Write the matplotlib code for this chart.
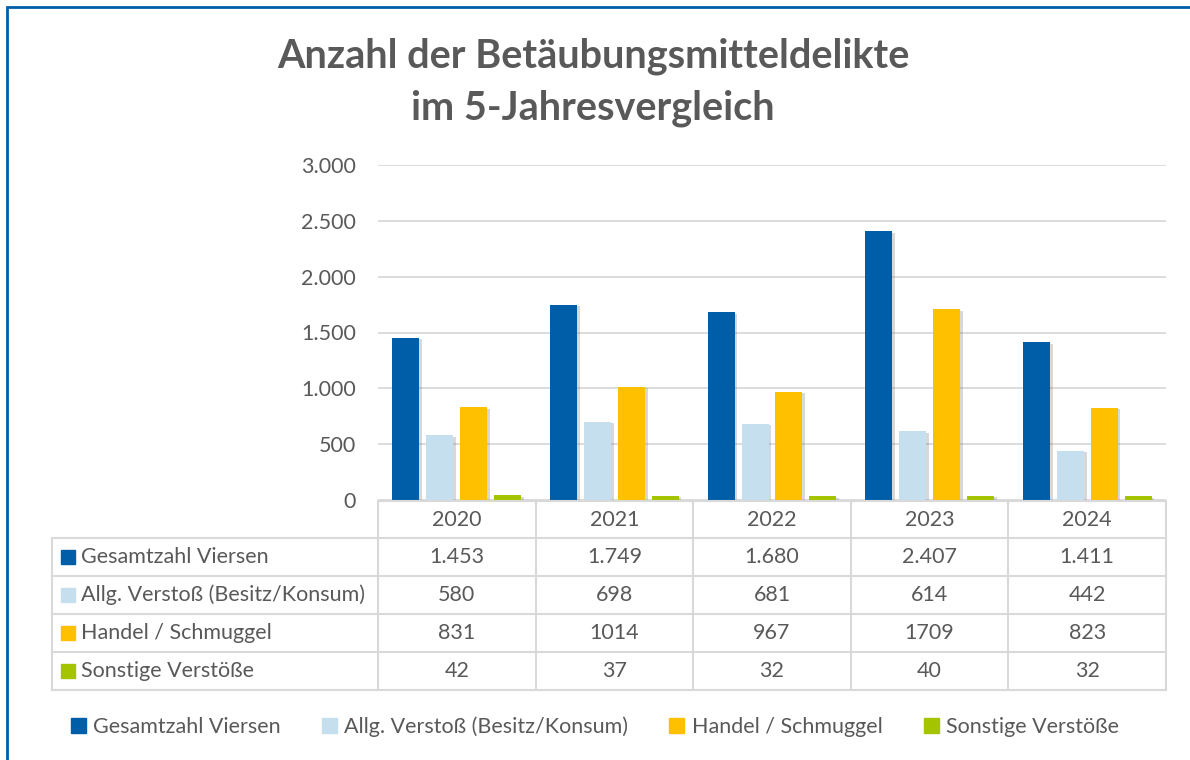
import matplotlib
matplotlib.use("Agg")
import matplotlib.pyplot as plt
import matplotlib.patheffects as pe
from matplotlib.lines import Line2D
from matplotlib.patches import Rectangle
from matplotlib.transforms import blended_transform_factory

# data
years = ["2020", "2021", "2022", "2023", "2024"]
series_names = ["Gesamtzahl Viersen", "Allg. Verstoß (Besitz/Konsum)",
                "Handel / Schmuggel", "Sonstige Verstöße"]
gesamt = [1453, 1749, 1680, 2407, 1411]
besitz = [580, 698, 681, 614, 442]
handel = [831, 1014, 967, 1709, 823]
sonstige = [42, 37, 32, 40, 32]
series = [gesamt, besitz, handel, sonstige]
colors = ["#005EA8", "#C6DFEE", "#FFC000", "#A5C400"]
y_ticks = [0, 500, 1000, 1500, 2000, 2500, 3000]

TEXT = "#595959"
GRID = "#D9D9D9"
FS = 15.5
plt.rcParams["font.family"] = ["Lato", "DejaVu Sans"]

W, H = 1190, 760
fig = plt.figure(figsize=(W / 100, H / 100), dpi=100)

def fx(px):
    return px / W

def fy(py):
    return 1 - py / H

# plot area
ax = fig.add_axes([fx(378), fy(500), fx(1166) - fx(378), fy(165) - fy(500)])
ax.set_xlim(-0.5, len(years) - 0.5)
ax.set_ylim(0, 3000)
for s in ax.spines.values():
    s.set_visible(False)
ax.set_xticks([])
ax.set_yticks(y_ticks)
ax.set_yticklabels([f"{v:,}".replace(",", ".") for v in y_ticks],
                   fontsize=FS, color=TEXT)
ax.tick_params(axis="y", length=0, pad=16)
ax.grid(axis="y", color=GRID, linewidth=1.3)
ax.set_axisbelow(True)

step = 0.215
width = 0.171
for k, (vals, c) in enumerate(zip(series, colors)):
    xs = [i + (k - 1.5) * step for i in range(len(years))]
    bars = ax.bar(xs, vals, width=width, color=c, zorder=3)
    for b in bars:
        b.set_path_effects([pe.SimplePatchShadow(offset=(2, -1),
                                                 shadow_rgbFace="#7F7F7F", alpha=0.3),
                            pe.Normal()])

# data table
tr = blended_transform_factory(ax.transData, fig.transFigure)
row_edges = [501, 538, 576, 614, 652, 690]
x_left = fx(52)
x_axis = fx(378)
x_right = fx(1166)

def hline(y, x0, x1):
    fig.add_artist(Line2D([x0, x1], [fy(y), fy(y)], color=GRID, lw=1.5,
                          transform=fig.transFigure))

def vline(x, y0, y1):
    fig.add_artist(Line2D([x, x], [fy(y0), fy(y1)], color=GRID, lw=1.5,
                          transform=fig.transFigure))

hline(row_edges[0], x_axis, x_right)
for y in row_edges[1:]:
    hline(y, x_left, x_right)
vline(x_left, row_edges[1], row_edges[-1])
for i in range(len(years) + 1):
    xd = i - 0.5
    xf = fig.transFigure.inverted().transform(ax.transData.transform((xd, 0)))[0]
    vline(xf, row_edges[0], row_edges[-1])

for i, yr in enumerate(years):
    yc = fy((row_edges[0] + row_edges[1]) / 2)
    fig.text(0, 0, yr, transform=tr, fontsize=FS, color=TEXT,
             ha="center", va="center").set_position((i, yc))

for r, (name, vals, c) in enumerate(zip(series_names, series, colors)):
    yc = fy((row_edges[r + 1] + row_edges[r + 2]) / 2)
    fig.add_artist(Rectangle((fx(61), yc - 7 / H), 14 / W, 14 / H, color=c,
                             transform=fig.transFigure))
    fig.text(fx(81), yc, name, fontsize=FS, color=TEXT, ha="left", va="center")
    for i, v in enumerate(vals):
        label = f"{v:,}".replace(",", ".") if r == 0 else str(v)
        fig.text(0, 0, label, transform=tr, fontsize=FS, color=TEXT,
                 ha="center", va="center").set_position((i, yc))

# legend
handles = [Rectangle((0, 0), 1, 1, color=c) for c in colors]
fig.legend(handles, series_names, loc="center", bbox_to_anchor=(0.5, fy(727)),
           ncol=4, frameon=False, fontsize=FS, labelcolor=TEXT,
           handlelength=0.7, handleheight=0.7, handletextpad=0.35,
           columnspacing=1.9)

# title
fig.text(fx(593), fy(82), "Anzahl der Betäubungsmitteldelikte\nim 5-Jahresvergleich",
         ha="center", va="center", fontsize=28.5, fontweight="bold", color=TEXT,
         linespacing=1.48)

# chart frame
fig.add_artist(Rectangle((fx(7), fy(H + 20)), 1.2, fy(7) - fy(H + 20), fill=False,
                         edgecolor="#005EA8", lw=2, transform=fig.transFigure))

fig.savefig("out.png", dpi=100)
